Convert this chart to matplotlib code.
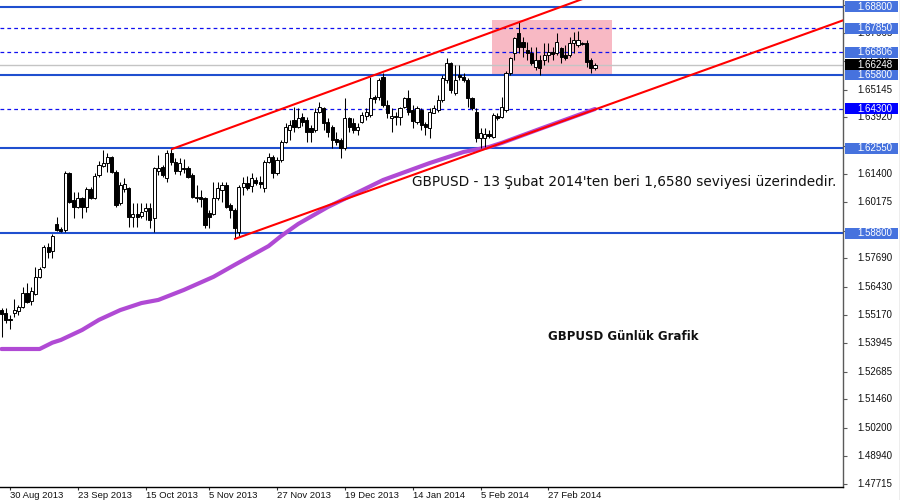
import matplotlib
matplotlib.use('Agg')
import matplotlib.pyplot as plt
import numpy as np
import pandas as pd
from matplotlib.patches import Rectangle
from matplotlib.lines import Line2D
from matplotlib.transforms import blended_transform_factory

# ---------------- data ----------------
first_day = '2013-08-28'
holidays = ['2013-12-25', '2014-01-01']

opens = [
    1.5540, 1.5527, 1.5500, 1.5527, 1.5536, 1.5554, 1.5616, 1.5580, 1.5611, 1.5686,
    1.5731, 1.5819, 1.5801, 1.5921, 1.5899, 1.5894, 1.6146, 1.6027, 1.5996, 1.6036,
    1.5996, 1.6075, 1.6036, 1.6137, 1.6177, 1.6190, 1.6217, 1.6151, 1.6013, 1.6075,
    1.6080, 1.5952, 1.5965, 1.5956, 1.5978, 1.5991, 1.5947, 1.6155, 1.6173, 1.6124,
    1.6235, 1.6195, 1.6155, 1.6168, 1.6168, 1.6137, 1.6040, 1.6040, 1.6036, 1.5969,
    1.5965, 1.6036, 1.6071, 1.6093, 1.6004, 1.5983, 1.5885, 1.6084, 1.6102, 1.6089,
    1.6115, 1.6106, 1.6080, 1.6195, 1.6217, 1.6146, 1.6204, 1.6283, 1.6336, 1.6380,
    1.6349, 1.6394, 1.6380, 1.6345, 1.6336, 1.6416, 1.6433, 1.6372, 1.6349, 1.6296,
    1.6292, 1.6257, 1.6389, 1.6367, 1.6336, 1.6372, 1.6398, 1.6403, 1.6482, 1.6482,
    1.6571, 1.6447, 1.6389, 1.6398, 1.6394, 1.6438, 1.6478, 1.6425, 1.6372, 1.6425,
    1.6363, 1.6345, 1.6411, 1.6425, 1.6469, 1.6557, 1.6632, 1.6500, 1.6579, 1.6571,
    1.6557, 1.6478, 1.6416, 1.6301, 1.6301, 1.6318, 1.6305, 1.6398, 1.6394, 1.6425,
    1.6588, 1.6677, 1.6765, 1.6725, 1.6690, 1.6677, 1.6615, 1.6646, 1.6646, 1.6668,
    1.6681, 1.6677, 1.6699, 1.6668, 1.6668, 1.6721, 1.6712, 1.6721, 1.6721, 1.6646,
    1.6610]

highs = [
    1.5549, 1.5549, 1.5518, 1.5589, 1.5562, 1.5642, 1.5660, 1.5642, 1.5731, 1.5731,
    1.5828, 1.5837, 1.5876, 1.5952, 1.5907, 1.6155, 1.6151, 1.6062, 1.6062, 1.6040,
    1.6084, 1.6084, 1.6146, 1.6199, 1.6248, 1.6235, 1.6221, 1.6160, 1.6106, 1.6124,
    1.6084, 1.6013, 1.6013, 1.6013, 1.6013, 1.6013, 1.6173, 1.6226, 1.6182, 1.6248,
    1.6252, 1.6212, 1.6212, 1.6208, 1.6177, 1.6146, 1.6093, 1.6071, 1.6040, 1.5983,
    1.6106, 1.6106, 1.6106, 1.6106, 1.6013, 1.5991, 1.6093, 1.6129, 1.6133, 1.6146,
    1.6128, 1.6133, 1.6204, 1.6235, 1.6226, 1.6217, 1.6292, 1.6367, 1.6380, 1.6438,
    1.6433, 1.6411, 1.6394, 1.6358, 1.6433, 1.6460, 1.6438, 1.6389, 1.6358, 1.6327,
    1.6301, 1.6478, 1.6394, 1.6389, 1.6367, 1.6416, 1.6433, 1.6571, 1.6491, 1.6566,
    1.6588, 1.6469, 1.6433, 1.6416, 1.6438, 1.6482, 1.6513, 1.6447, 1.6442, 1.6433,
    1.6372, 1.6433, 1.6447, 1.6491, 1.6579, 1.6654, 1.6637, 1.6624, 1.6624, 1.6588,
    1.6566, 1.6482, 1.6433, 1.6345, 1.6345, 1.6336, 1.6411, 1.6411, 1.6482, 1.6597,
    1.6659, 1.6747, 1.6814, 1.6747, 1.6725, 1.6703, 1.6703, 1.6668, 1.6721, 1.6721,
    1.6703, 1.6765, 1.6703, 1.6712, 1.6747, 1.6769, 1.6774, 1.6725, 1.6734, 1.6655,
    1.6632]

lows = [
    1.5421, 1.5483, 1.5456, 1.5509, 1.5518, 1.5549, 1.5571, 1.5562, 1.5607, 1.5682,
    1.5726, 1.5770, 1.5770, 1.5890, 1.5885, 1.5885, 1.6013, 1.5947, 1.5991, 1.5947,
    1.5974, 1.6031, 1.6031, 1.6128, 1.6173, 1.6151, 1.6146, 1.5996, 1.6004, 1.6062,
    1.5907, 1.5907, 1.5907, 1.5947, 1.5938, 1.5903, 1.5885, 1.6137, 1.6128, 1.6106,
    1.6182, 1.6142, 1.6137, 1.6146, 1.6124, 1.6036, 1.6018, 1.5996, 1.5903, 1.5903,
    1.5961, 1.6027, 1.6018, 1.5991, 1.5947, 1.5859, 1.5867, 1.6049, 1.6071, 1.6062,
    1.6093, 1.6080, 1.6062, 1.6190, 1.6124, 1.6137, 1.6195, 1.6279, 1.6292, 1.6327,
    1.6345, 1.6354, 1.6283, 1.6283, 1.6327, 1.6411, 1.6336, 1.6305, 1.6257, 1.6270,
    1.6212, 1.6248, 1.6327, 1.6323, 1.6314, 1.6367, 1.6380, 1.6394, 1.6455, 1.6469,
    1.6438, 1.6389, 1.6327, 1.6358, 1.6358, 1.6433, 1.6403, 1.6345, 1.6363, 1.6336,
    1.6314, 1.6301, 1.6411, 1.6416, 1.6460, 1.6544, 1.6500, 1.6491, 1.6557, 1.6549,
    1.6438, 1.6425, 1.6283, 1.6257, 1.6261, 1.6301, 1.6301, 1.6380, 1.6389, 1.6416,
    1.6579, 1.6646, 1.6677, 1.6659, 1.6646, 1.6624, 1.6602, 1.6579, 1.6624, 1.6637,
    1.6646, 1.6668, 1.6632, 1.6646, 1.6659, 1.6677, 1.6703, 1.6712, 1.6615, 1.6588,
    1.6602]

closes = [
    1.5523, 1.5496, 1.5494, 1.5540, 1.5554, 1.5616, 1.5576, 1.5624, 1.5686, 1.5722,
    1.5819, 1.5797, 1.5868, 1.5894, 1.5890, 1.6146, 1.6018, 1.5996, 1.6036, 1.5996,
    1.6075, 1.6036, 1.6133, 1.6181, 1.6190, 1.6217, 1.6151, 1.6004, 1.6093, 1.6098,
    1.5952, 1.5965, 1.5952, 1.5974, 1.5991, 1.5938, 1.6168, 1.6168, 1.6137, 1.6235,
    1.6195, 1.6155, 1.6190, 1.6164, 1.6128, 1.6040, 1.6036, 1.6031, 1.5916, 1.5952,
    1.6036, 1.6080, 1.6093, 1.5996, 1.5983, 1.5903, 1.6084, 1.6102, 1.6080, 1.6124,
    1.6102, 1.6098, 1.6195, 1.6217, 1.6146, 1.6204, 1.6283, 1.6349, 1.6358, 1.6349,
    1.6389, 1.6372, 1.6327, 1.6327, 1.6416, 1.6438, 1.6367, 1.6327, 1.6292, 1.6283,
    1.6257, 1.6389, 1.6349, 1.6336, 1.6349, 1.6403, 1.6416, 1.6478, 1.6473, 1.6557,
    1.6447, 1.6411, 1.6398, 1.6394, 1.6433, 1.6478, 1.6416, 1.6376, 1.6433, 1.6358,
    1.6349, 1.6416, 1.6433, 1.6469, 1.6566, 1.6632, 1.6513, 1.6557, 1.6571, 1.6557,
    1.6478, 1.6433, 1.6301, 1.6323, 1.6318, 1.6310, 1.6403, 1.6389, 1.6438, 1.6588,
    1.6654, 1.6743, 1.6703, 1.6703, 1.6677, 1.6632, 1.6646, 1.6610, 1.6668, 1.6681,
    1.6672, 1.6725, 1.6659, 1.6654, 1.6721, 1.6734, 1.6734, 1.6716, 1.6637, 1.6610,
    1.6625]

# moving average (read at selected bars)
ma_bars = [0, 9, 12, 14, 19, 23, 28, 33, 37, 43, 50, 55, 63, 66, 70, 77, 90, 101,
           109, 115, 118, 127, 140]
ma_values = [1.5368, 1.5368, 1.5396, 1.5408, 1.5452, 1.5497, 1.5540, 1.5571, 1.5585,
             1.5629, 1.5687, 1.5740, 1.5823, 1.5868, 1.5921, 1.5996, 1.6115, 1.6190,
             1.6239, 1.6261, 1.6279, 1.6341, 1.6429]

tick_dates = ['2013-08-30', '2013-09-23', '2013-10-15', '2013-11-05', '2013-11-27',
              '2013-12-19', '2014-01-14', '2014-02-05', '2014-02-27']
tick_labels = ['30 Aug 2013', '23 Sep 2013', '15 Oct 2013', '5 Nov 2013', '27 Nov 2013',
               '19 Dec 2013', '14 Jan 2014', '5 Feb 2014', '27 Feb 2014']

price_ticks = [1.47715, 1.48940, 1.50200, 1.51460, 1.52685, 1.53945, 1.55170, 1.56430,
               1.57690, 1.58915, 1.60175, 1.61400, 1.62660, 1.63920, 1.65145, 1.66405,
               1.67665, 1.68890]
hidden_price_labels = [1.58915, 1.62660, 1.68890]

solid_levels = [1.68800, 1.65800, 1.62550, 1.58800]
dashed_levels = [1.67850, 1.66806, 1.64300]
last_price = 1.66248

# trend lines: (bar, price) pairs
upper_trend = [(40.2, 1.6252), (150.0, 1.7004)]
lower_trend = [(55.1, 1.5855), (200.0, 1.6831)]

# highlighted zone (bars, prices)
zone_bars = (115.7, 144.0)
zone_prices = (1.6580, 1.6823)

note_text = "GBPUSD - 13 Şubat 2014'ten beri 1,6580 seviyesi üzerindedir."
title_text = "GBPUSD Günlük Grafik"

# ---------------- figure ----------------
W, H = 900, 500
fig = plt.figure(figsize=(9, 5), dpi=100)
fig.patch.set_facecolor('white')
ax_right_px = 843
ax_bottom_px = 487
ax = fig.add_axes([0, (H - ax_bottom_px) / H, ax_right_px / W, ax_bottom_px / H])

n = len(closes)
bday = pd.offsets.CustomBusinessDay(holidays=holidays)
dates = pd.date_range(first_day, periods=n, freq=bday)
date_pos = {d.strftime('%Y-%m-%d'): i for i, d in enumerate(dates)}

ax.set_xlim(-0.354, 198.5)
ax.set_ylim(1.47579, 1.69109)
ax.set_facecolor('white')

# zone
ax.add_patch(Rectangle((zone_bars[0], zone_prices[0]), zone_bars[1] - zone_bars[0],
                       zone_prices[1] - zone_prices[0], facecolor='#F8B9C4',
                       edgecolor='none', zorder=0.5))

# horizontal levels
for v in solid_levels:
    ax.axhline(v, color='#1F4FCF', lw=1.5, zorder=1)
for v in dashed_levels:
    ax.axhline(v, color='#1010F0', lw=0.9, dashes=(3, 2.5), zorder=1)
ax.axhline(last_price, color='#C4C4C4', lw=1.0, zorder=0.9)

# moving average
ax.plot(ma_bars, ma_values, color='#B04AD4', lw=3.0, solid_capstyle='round',
        solid_joinstyle='round', zorder=2)

# candles
x = np.arange(n)
o = np.array(opens); h = np.array(highs); l = np.array(lows); c = np.array(closes)
up = c >= o
ax.vlines(x, l, h, color='black', lw=0.75, zorder=3)
bottom = np.minimum(o, c)
height = np.maximum(np.abs(c - o), 0.00012)
ax.bar(x[up], height[up], bottom=bottom[up], width=0.74, color='white',
       edgecolor='black', linewidth=0.7, zorder=3.5)
ax.bar(x[~up], height[~up], bottom=bottom[~up], width=0.74, color='black',
       edgecolor='black', linewidth=0.7, zorder=3.5)

# trend lines
for line in (upper_trend, lower_trend):
    ax.plot([p[0] for p in line], [p[1] for p in line], color='#FF0000', lw=1.5, zorder=4)

# spines
for s in ('left', 'top'):
    ax.spines[s].set_visible(False)
ax.spines['bottom'].set_color('black')
ax.spines['bottom'].set_linewidth(1.0)
ax.spines['right'].set_color('#5a5a5a')
ax.spines['right'].set_linewidth(1.0)

# x ticks
ax.set_xticks([date_pos[d] for d in tick_dates])
ax.set_xticklabels(tick_labels, ha='left', fontsize=6.8, family='Liberation Sans',
                   color='#111111')
ax.tick_params(axis='x', length=2.5, pad=0.2, color='#333333')

# y ticks
ax.yaxis.tick_right()
ax.set_yticks(price_ticks)
ax.set_yticklabels([])
ax.tick_params(axis='y', length=3, color='#5a5a5a')

ytrans = blended_transform_factory(ax.transAxes, ax.transData)
for v in price_ticks:
    if v in hidden_price_labels:
        continue
    ax.text(857 / ax_right_px, v, f'{v:.5f}', transform=ytrans, ha='left', va='center',
            fontsize=7, family='Liberation Sans', color='#111111', clip_on=False, zorder=5)

ftrans = blended_transform_factory(fig.transFigure, ax.transData)
box_h = 11 * 0.0004421
def price_label(v, fc, tc='white'):
    ax.add_patch(Rectangle((845 / W, v - box_h / 2), 53 / W, box_h, transform=ftrans,
                           facecolor=fc, edgecolor='none', clip_on=False, zorder=10))
    ax.text(857 / ax_right_px, v, f'{v:.5f}', transform=ytrans, ha='left', va='center',
            fontsize=7, family='Liberation Sans', color=tc, clip_on=False, zorder=11)

for v in solid_levels + dashed_levels[:2]:
    price_label(v, '#4672DE')
price_label(dashed_levels[2], '#0000FF')
price_label(last_price, '#000000')

# annotations
ax.text(412 / ax_right_px, (ax_bottom_px - 182) / ax_bottom_px, note_text,
        transform=ax.transAxes, ha='left', va='center', fontsize=9.8,
        family='DejaVu Sans', color='#111111', zorder=6)
ax.text(548 / ax_right_px, (ax_bottom_px - 337) / ax_bottom_px, title_text,
        transform=ax.transAxes, ha='left', va='center', fontsize=8.5,
        family='DejaVu Sans', fontweight='bold', color='#111111', zorder=6)

fig.add_artist(Line2D([899.5 / W, 899.5 / W], [0, 1], transform=fig.transFigure,
                      color='#A8A8A8', lw=1))

fig.savefig('out.png', dpi=100, facecolor='white')
